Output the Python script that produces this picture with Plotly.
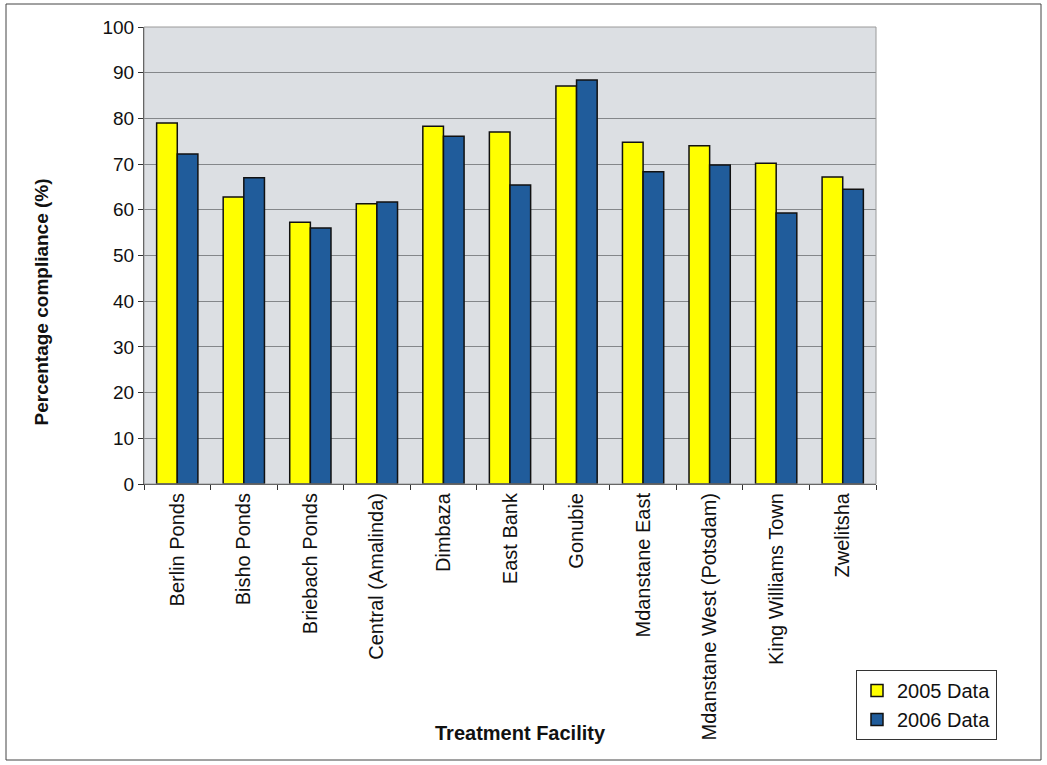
import plotly.graph_objects as go

facilities = [
    "Berlin Ponds", "Bisho Ponds", "Briebach Ponds", "Central (Amalinda)",
    "Dimbaza", "East Bank", "Gonubie", "Mdanstane East",
    "Mdanstane West (Potsdam)", "King Williams Town", "Zwelitsha",
]
data_2005 = [79.0, 62.8, 57.3, 61.3, 78.3, 77.0, 87.1, 74.8, 74.0, 70.2, 67.2]
data_2006 = [72.2, 67.0, 56.0, 61.7, 76.1, 65.4, 88.4, 68.3, 69.8, 59.3, 64.5]
y_ticks = list(range(0, 101, 10))

FONT = "Liberation Sans, Arial, sans-serif"

# plot area in pixels: x 144..876, y 27..484
L, R, T, B = 144, 876, 27, 484
W, H = 1047, 765
pw, ph = R - L, B - T


def px(x):
    return (x - L) / pw


def py(y):
    return (B - y) / ph


fig = go.Figure()
fig.add_trace(go.Bar(
    x=facilities, y=data_2005, name="2005 Data",
    marker=dict(color="#ffff00", line=dict(color="#111111", width=1.5)),
))
fig.add_trace(go.Bar(
    x=facilities, y=data_2006, name="2006 Data",
    marker=dict(color="#205c9b", line=dict(color="#111111", width=1.5)),
))

fig.update_layout(
    width=W, height=H,
    margin=dict(l=L, r=W - R, t=T, b=H - B),
    paper_bgcolor="white",
    plot_bgcolor="#dcdfe3",
    barmode="group",
    bargap=0.38,
    bargroupgap=0.0,
    font=dict(family=FONT, size=16, color="#111111"),
    showlegend=True,
    legend=dict(
        x=px(856), y=py(670), xanchor="left", yanchor="top",
        bgcolor="white", bordercolor="#333333", borderwidth=1,
        font=dict(size=20, family=FONT), tracegroupgap=6,
    ),
    xaxis=dict(
        tickangle=-90, tickson="boundaries", ticks="outside", ticklen=5,
        tickcolor="#333333", showline=True, linecolor="#333333",
        linewidth=1, mirror=False, showgrid=False,
        tickfont=dict(size=20, family=FONT),
    ),
    yaxis=dict(
        range=[0, 100], tickvals=y_ticks, ticks="outside", ticklen=5,
        tickcolor="#333333", showline=True, linecolor="#333333",
        linewidth=1, showgrid=True, gridcolor="#84878a", gridwidth=1,
        zeroline=False, tickfont=dict(size=19, family=FONT),
    ),
    annotations=[
        dict(text="<b>Percentage compliance (%)</b>", textangle=-90,
             x=px(28), y=py(302), xref="paper", yref="paper", showarrow=False,
             font=dict(size=19, family=FONT)),
        dict(text="<b>Treatment Facility</b>",
             x=px(520), y=py(746), xref="paper", yref="paper", showarrow=False,
             font=dict(size=20, family=FONT)),
    ],
    shapes=[
        # frame around the whole chart
        dict(type="rect", xref="paper", yref="paper",
             x0=px(6), x1=px(1041), y0=py(760), y1=py(4),
             line=dict(color="#444444", width=1), fillcolor="rgba(0,0,0,0)"),
        # plot area outline (top/right)
        dict(type="rect", xref="paper", yref="paper",
             x0=0, x1=1, y0=0, y1=1,
             line=dict(color="#9a9a9a", width=1), fillcolor="rgba(0,0,0,0)"),
    ],
)

fig.write_html("out.html")
